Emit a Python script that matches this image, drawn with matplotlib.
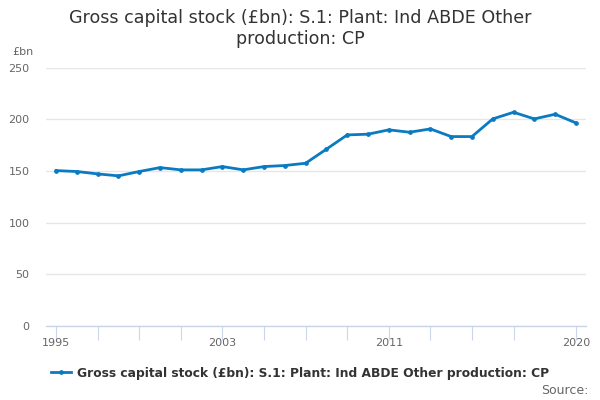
import matplotlib
matplotlib.use("Agg")
import matplotlib.pyplot as plt

years = list(range(1995, 2021))
values = [150.3, 149.4, 147.1, 145.2, 149.4, 153.2, 151.0, 151.0, 154.2, 151.0,
          154.2, 155.2, 157.4, 171.0, 184.8, 185.5, 189.7, 187.4, 190.6, 183.2,
          183.2, 200.3, 206.7, 200.3, 204.8, 196.4]
tick_years = [1995, 1997, 1999, 2001, 2003, 2005, 2007, 2009, 2011, 2013, 2015, 2017, 2020]
label_years = [1995, 2003, 2011, 2020]
yticks = [0, 50, 100, 150, 200, 250]
series_name = "Gross capital stock (£bn): S.1: Plant: Ind ABDE Other production: CP"

plt.rcParams['font.family'] = ['DejaVu Sans']
fig = plt.figure(figsize=(6, 4), dpi=100)
ax = fig.add_axes([46/600, (400-326)/400, 540/600, (326-67.5)/400])

color = "#0a7bc2"
line, = ax.plot(years, values, color=color, lw=2, marker='o', ms=2.4, label=series_name)

ax.set_xlim(1995 - 10/20.7, 2020 + 10/20.7)
ax.set_ylim(0, 250)
ax.set_yticks(yticks)
ax.yaxis.grid(True, color="#e6e6e6", lw=1)
ax.set_axisbelow(True)
for s in ['top', 'right', 'left']:
    ax.spines[s].set_visible(False)
ax.spines['bottom'].set_color("#ccd6eb")
ax.spines['bottom'].set_linewidth(1)
ax.tick_params(axis='y', length=0, labelsize=8, labelcolor="#666666", pad=12)
ax.set_xticks(tick_years)
ax.set_xticklabels([str(y) if y in label_years else "" for y in tick_years])
ax.tick_params(axis='x', length=10, color="#ccd6eb", labelsize=8, labelcolor="#666666", pad=-1)

fig.text(0.5, 1 - 18/400, "Gross capital stock (£bn): S.1: Plant: Ind ABDE Other",
         ha='center', va='center', fontsize=12.6, color="#333333")
fig.text(0.5, 1 - 39/400, "production: CP", ha='center', va='center', fontsize=12.6, color="#333333")
fig.text(12/600, 1 - 52/400, "£bn", ha='left', va='center', fontsize=8, color="#666666")

leg = fig.legend(handles=[line], loc='center', bbox_to_anchor=(0.5, 1 - 373/400),
                 frameon=False, prop={'size': 8.8, 'weight': 'bold'},
                 handlelength=1.6, handletextpad=0.5)
for t in leg.get_texts():
    t.set_color("#333333")
fig.text(589/600, 1 - 391/400, "Source:", ha='right', va='center', fontsize=9, color="#666666")

fig.savefig("out.png", dpi=100)
